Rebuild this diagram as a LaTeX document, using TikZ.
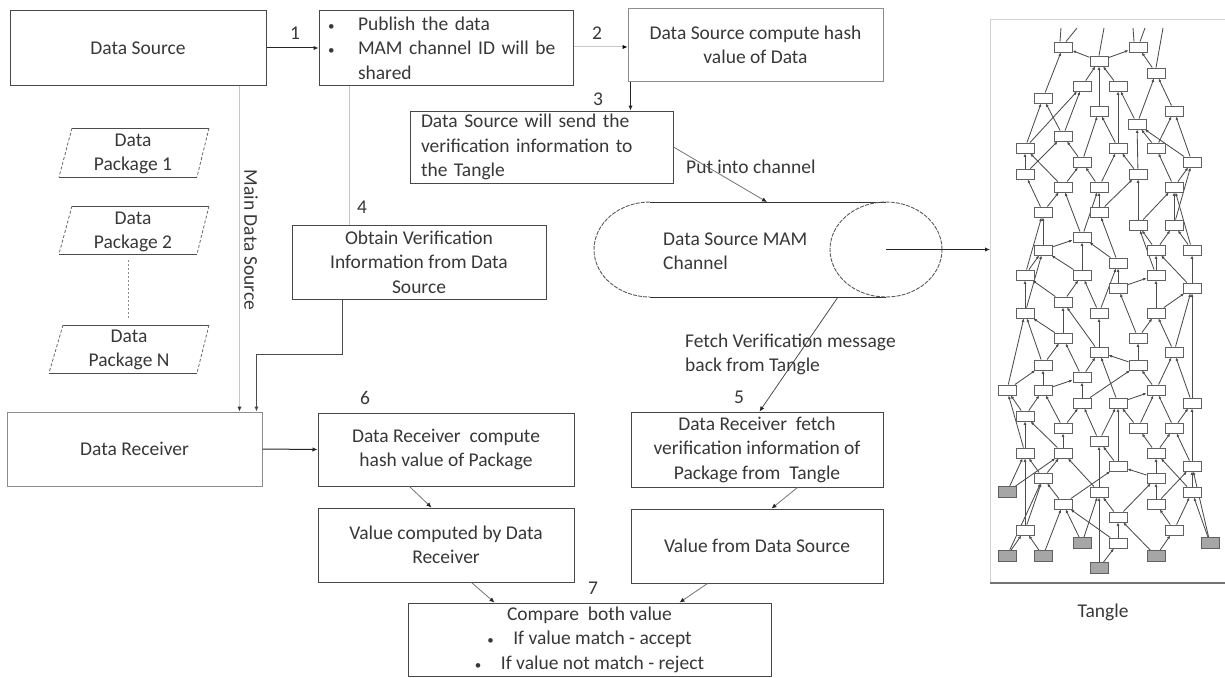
\documentclass[tikz,border=0pt]{standalone}
\usepackage{fontspec}
\setmainfont{Carlito}
\usetikzlibrary{arrows.meta,calc}
\pgfdeclarelayer{bg}
\pgfsetlayers{bg,main}
\newcommand{\smallbul}{{\fontsize{13}{13}\selectfont\textbullet}}

\begin{document}
\begin{tikzpicture}[x=1pt,y=-1pt,
  font=\fontsize{19.5}{24.5}\selectfont,
  every node/.style={text=black!78},
  box/.style={draw=black!72, line width=1pt, fill=white, inner sep=0pt},
  softbox/.style={box, draw=black!45},
  lbl/.style={inner sep=0pt},
  tip/.style={-{Latex[length=5pt,width=4.5pt]}},
  darkline/.style={line width=1pt, draw=black!85},
  lightline/.style={line width=1pt, draw=black!22},
  midline/.style={line width=0.8pt, draw=black!55},
  tbox/.style={draw=black!62, fill=white, line width=0.9pt, minimum width=18pt, minimum height=10pt, inner sep=0pt},
  gbox/.style={tbox, fill=black!35, minimum height=11pt},
  tedge/.style={draw=black!70, line width=0.85pt, -{Latex[length=3.5pt,width=3pt]}},
  pkgside/.style={draw=black!60, line width=0.8pt, dash pattern=on 3pt off 2pt},
  pkgedge/.style={draw=black!70, line width=1pt}]

\useasboundingbox (0,0) rectangle (1225,677);

% ---------- main boxes ----------
\node[box, minimum width=256pt, minimum height=74pt] (ds) at (138,48) {Data Source};

\node[box, minimum width=254pt, minimum height=74pt, text width=236pt, align=left] (pub) at (446,48)
  {\makebox[30pt][l]{\smallbul}Publish the data\\
   \makebox[30pt][l]{\smallbul}MAM channel ID will be\\
   \hspace*{30pt}shared};

\node[softbox, minimum width=255pt, minimum height=72pt, align=center] (hash) at (755.5,45)
  {Data Source compute hash\\value of Data};

\node[box, minimum width=263pt, minimum height=72pt, text width=241pt, align=left] (send) at (541.5,147)
  {Data Source will send the\\verification information to\\the Tangle};

\node[box, minimum width=254pt, minimum height=74pt, align=center] (obt) at (419,262)
  {Obtain Verification\\Information from Data\\Source};

\node[softbox, minimum width=255pt, minimum height=74pt] (recv) at (134.5,449) {Data Receiver};

\node[box, minimum width=256pt, minimum height=73pt, align=center] (comp) at (446,449.5)
  {Data Receiver\ \ compute\\hash value of Package};

\node[box, minimum width=256pt, minimum height=74pt, align=center] (valc) at (446,545)
  {Value computed by Data\\Receiver};

\node[box, minimum width=252pt, minimum height=75pt, align=center] (fetch) at (757,449.5)
  {Data Receiver\ \ fetch\\verification information of\\Package from\ \ Tangle};

\node[box, minimum width=252pt, minimum height=74pt] (vals) at (757,546) {Value from Data Source};

\node[box, minimum width=363pt, minimum height=73pt, align=center] (cmpb) at (589.5,639.5)
  {Compare\ \ both value\\
   \makebox[26pt][l]{\smallbul}If value match - accept\\
   \makebox[26pt][l]{\smallbul}If value not match - reject};

% ---------- data packages ----------
\draw[pkgedge] (72,128) -- (209,128) (59,177) -- (197,177);
\draw[pkgside] (72,128) -- (59,177) (209,128) -- (197,177);
\node[lbl, align=center] (p1) at (133,154) {Data\\Package 1};

\draw[pkgedge] (72,206) -- (209,206) (59,254) -- (197,254);
\draw[pkgside] (72,206) -- (59,254) (209,206) -- (197,254);
\node[lbl, align=center] (p2) at (133,232) {Data\\Package 2};

\draw[pkgedge] (63,325) -- (209,325) (49,373) -- (197,373);
\draw[pkgside] (63,325) -- (49,373) (209,325) -- (197,373);
\node[lbl, align=center] (pn) at (129,350) {Data\\Package N};

\coordinate (p2b) at (128,260);
\coordinate (pnt) at (128,318);
\draw[draw=black!45, line width=0.8pt, dash pattern=on 2pt off 2pt] (p2b) -- (pnt);

% ---------- MAM channel ----------
\coordinate (chanIn) at (767,202);
\coordinate (chanOut) at (838,297);
\coordinate (chanMid) at (886,249.5);
\draw[line width=1pt, draw=black!80] (650,202) -- (886,202) (650,297) -- (886,297);
\draw[line width=0.9pt, draw=black!65, dash pattern=on 4pt off 1.2pt]
  (650,202) arc[start angle=90, end angle=270, x radius=56pt, y radius=47.5pt];
\draw[line width=0.9pt, draw=black!65, dash pattern=on 4pt off 1.2pt]
  (chanMid) ellipse[x radius=56pt, y radius=47.5pt];
\node[lbl, anchor=west, align=left] (chanTxt) at (663,251) {Data Source MAM\\Channel};

% ---------- tangle frame ----------
\coordinate (tin) at (990,249.5);
\draw[draw=black!18, line width=1pt] (990,583) -- (990,20) -- (1225,20);
\draw[draw=black!55, line width=1.2pt] (990,583) -- (1225,583);
\node[lbl] (tname) at (1103,612) {Tangle};

% ---------- connectors ----------
\draw[darkline, tip] (ds.east) -- (pub.west);
\node[lbl] (n1) at (295,33) {1};

\draw[lightline, -{Latex[length=5pt,width=4.5pt,color=black]}] (pub.east |- 0,47) -- (hash.west |- 0,47);
\node[lbl] (n2) at (597,33) {2};

\draw[darkline, tip] ([xshift=3pt]hash.south west) -- ([xshift=3pt]hash.south west |- send.north);
\node[lbl] (n3) at (598,99) {3};

\draw[lightline, -{Latex[length=5pt,width=4.5pt,color=black!80]}] ([xshift=-27pt]ds.south east) -- ([xshift=-27pt]ds.south east |- recv.north);
\node[lbl, rotate=-90] (mds) at (251,240) {Main Data Source};

\draw[lightline] ([xshift=31pt]pub.south west) -- ([xshift=31pt]pub.south west |- obt.north);
\node[lbl] (n4) at (362,207) {4};

\draw[line width=1pt, draw=black!70, tip] ([xshift=51pt]obt.south west) -- ++(0,55) -| ([xshift=-6pt]recv.north east);

\draw[darkline, tip] (recv.east) -- (comp.west);
\node[lbl] (n6) at (365,398) {6};

\draw[midline, -{Latex[length=5pt,width=4.5pt,color=black!85]}] (send.east) -- (chanIn);
\node[lbl, anchor=west] (put) at (686,167) {Put into channel};

\draw[darkline, tip] (chanMid) -- (tin);

\draw[midline, draw=black!70, -{Latex[length=5pt,width=4.5pt,color=black!85]}] (chanOut) -- ([xshift=129pt]fetch.north west);
\node[lbl, anchor=west, align=left] (fetchTxt) at (685,354.5) {Fetch Verification message\\back from Tangle};
\node[lbl] (n5) at (739,397) {5};

\draw[midline, -{Latex[length=5pt,width=4.5pt,color=black!85]}] ([xshift=92pt]comp.south west) -- ([xshift=114pt]valc.north west);
\draw[midline, -{Latex[length=5pt,width=4.5pt,color=black!85]}] ([xshift=167pt]fetch.south west) -- ([xshift=141pt]vals.north west);
\draw[midline, -{Latex[length=5pt,width=4.5pt,color=black!85]}] ([xshift=154pt]valc.south west) -- ([xshift=87pt]cmpb.north west);
\draw[midline, -{Latex[length=5pt,width=4.5pt,color=black!85]}] ([xshift=77pt]vals.south west) -- ([xshift=272pt]cmpb.north west);
\node[lbl] (n7) at (593,588) {7};

% ---------- tangle transactions ----------
\foreach \n/\x/\y in {
  1/1063/47, 2/1138/47, 3/1099/61, 4/1156/73, 5/1082/86, 6/1118/86, 7/1043/98,
  8/1099/111, 9/1174/111, 10/1137/124, 11/1063/136, 12/1025/148, 13/1118/148,
  14/1156/148, 15/1082/162, 16/1192/162, 17/1025/174, 18/1138/174, 19/1063/187,
  20/1099/187, 21/1174/187, 22/1043/212, 23/1099/212, 24/1138/225, 25/1174/225,
  26/1082/237, 27/1043/250, 28/1156/250, 29/1192/250, 30/1118/263, 31/1025/275,
  32/1082/275, 33/1156/275, 34/1192/288, 35/1118/288, 36/1063/302, 37/1025/313,
  38/1099/313, 39/1156/313, 40/1063/338, 41/1138/338, 42/1099/352, 43/1174/352,
  44/1043/365, 45/1138/365, 46/1082/377, 47/1007/390, 48/1043/390, 49/1156/390,
  50/1082/403, 51/1118/403, 52/1192/403, 53/1025/416, 54/1063/428, 55/1138/428,
  56/1174/428, 57/1099/441, 58/1025/453, 59/1063/453, 60/1156/453, 61/1118/466,
  62/1192/466, 63/1043/478, 64/1156/478, 65/1099/492, 66/1192/492, 67/1063/504,
  68/1156/504, 69/1118/517, 70/1025/530, 71/1174/530, 72/1118/543}
  \node[tbox] (t\n) at (\x,\y) {};

\foreach \n/\x/\y in {73/1007/492, 74/1082/543, 75/1210/543, 76/1007/556,
  77/1043/556, 78/1156/556, 79/1099/568}
  \node[gbox] (t\n) at (\x,\y) {};

\coordinate (s1) at (1061,28);
\coordinate (s2) at (1077,28);
\coordinate (s3) at (1104,28);
\coordinate (s4) at (1133,28);
\coordinate (s5) at (1145,28);
\coordinate (s6) at (1163,28);

\begin{pgfonlayer}{bg}
\draw[draw=black!70, line width=0.85pt]
  ([xshift=-3pt]t1.north) -- (s1)
  ([xshift=3pt]t1.north) -- (s2)
  (t3.north) -- (s3)
  ([xshift=-4pt]t2.north) -- (s4)
  ([xshift=2pt]t2.north) -- (s5)
  (t4.north) -- (s6);
\foreach \a/\b in {
  3/1,3/2,4/2,5/3,6/3,7/1,8/3,9/4,10/4,10/6,11/5,11/7,12/7,12/5,13/6,13/8,
  14/9,14/10,15/8,15/11,16/9,16/10,17/12,17/11,18/10,18/13,19/15,19/12,20/15,
  20/13,21/14,21/16,22/17,22/19,23/20,23/18,24/18,24/21,25/21,25/16,26/19,
  26/20,27/22,27/26,28/24,28/25,29/25,29/21,30/23,30/26,31/27,31/22,32/26,
  32/27,33/28,33/24,34/29,34/28,35/30,35/33,36/31,36/32,37/31,37/27,38/32,
  38/30,39/33,39/34,40/36,40/37,41/35,41/39,42/38,42/36,43/39,43/34,44/40,
  44/37,45/41,45/42,46/42,46/40,47/44,47/37,48/44,48/46,49/45,49/43,50/46,
  50/45,51/42,51/49,52/43,52/34,53/47,53/48,54/48,54/50,55/51,55/49,56/52,
  56/49,57/50,57/51,58/53,58/47,59/54,59/53,60/55,60/56,61/57,61/51,62/56,
  62/52,63/58,63/59,64/60,64/61,65/59,65/57,66/62,66/60,67/63,67/61,68/64,
  68/62,69/65,69/64,70/63,70/58,71/68,71/66,72/69,72/67,
  73/58,73/59,74/67,74/65,75/66,75/62,76/70,76/63,77/70,77/67,78/71,78/69,
  79/72,79/65}
  \draw[tedge] (t\a) -- (t\b);
\end{pgfonlayer}

\end{tikzpicture}
\end{document}
